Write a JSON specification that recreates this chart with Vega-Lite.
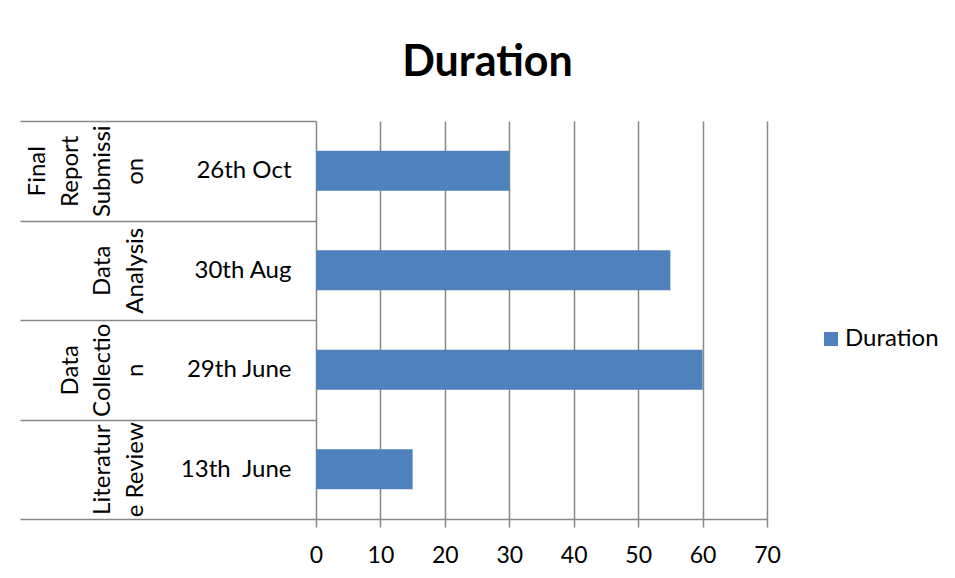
{
  "$schema": "https://vega.github.io/schema/vega-lite/v6.json",
  "width": 451,
  "height": 398,
  "autosize": {"type": "none"},
  "padding": {"left": 316, "top": 121, "right": 188, "bottom": 59},
  "background": "white",
  "title": {"text": "Duration", "fontSize": 43, "font": "Lato", "fontWeight": "bold", "color": "black", "anchor": "middle", "frame": "group", "dx": -54, "offset": 24},
  "config": {"view": {"stroke": null}, "font": "Lato"},
  "data": {"values": [
    {"task": "Final Report Submission", "date": "26th Oct", "duration": 30},
    {"task": "Data Analysis", "date": "30th Aug", "duration": 55},
    {"task": "Data Collection", "date": "29th June", "duration": 60},
    {"task": "Literature Review", "date": "13th \u00a0June", "duration": 15}
  ]},
  "layer": [
    {
      "mark": {"type": "bar", "color": "#4F81BD"},
      "encoding": {
        "y": {"field": "date", "type": "nominal", "sort": null, "scale": {"paddingInner": 0.6, "paddingOuter": 0.3}, "axis": null},
        "x": {"field": "duration", "type": "quantitative", "scale": {"domain": [0, 70], "nice": false},
          "axis": {"title": null, "values": [0, 10, 20, 30, 40, 50, 60, 70], "grid": true, "gridColor": "#878787", "gridWidth": 1.5, "gridOpacity": 1,
            "domain": true, "domainColor": "#878787", "domainWidth": 1.5, "ticks": true, "tickSize": 8, "tickColor": "#878787", "tickWidth": 1.5,
            "labelFontSize": 23, "labelColor": "black", "labelPadding": 17, "labelFont": "Lato", "labelFlush": false, "labelOverlap": false}},
        "color": {"datum": "Duration", "type": "nominal", "scale": {"range": ["#4F81BD"]},
          "legend": {"title": null, "orient": "none", "legendX": 503, "legendY": 206, "symbolType": "square", "symbolSize": 196, "symbolStrokeWidth": 0, "labelFontSize": 24, "labelOffset": 2, "labelColor": "black", "labelFont": "Lato", "padding": 0}}
      }
    },
    {
      "mark": {"type": "point", "opacity": 0},
      "encoding": {
        "y": {"field": "date", "type": "nominal", "sort": null, "scale": {"paddingInner": 0, "paddingOuter": 0},
          "axis": {"title": null, "orient": "left", "domain": false, "grid": false, "ticks": true, "tickBand": "extent", "tickSize": 296, "tickColor": "#878787", "tickWidth": 1.5,
            "labelPadding": -271, "labelFontSize": 24, "labelColor": "black", "labelFont": "Lato", "labelAlign": "right", "labelBaseline": "middle"}},
        "x": {"field": "duration", "type": "quantitative"}
      }
    },
    {
      "mark": {"type": "point", "opacity": 0},
      "encoding": {
        "y": {"field": "task", "type": "nominal", "sort": null, "scale": {"paddingInner": 0, "paddingOuter": 0},
          "axis": {"title": null, "orient": "left", "domain": false, "grid": false, "ticks": false,
            "labelExpr": "{'Final Report Submission': ['on', 'Submissi', 'Report', 'Final'], 'Data Analysis': ['Analysis', 'Data'], 'Data Collection': ['n', 'Collectio', 'Data'], 'Literature Review': ['e Review', 'Literatur']}[datum.value]",
            "labelAngle": 270, "labelAlign": "center", "labelBaseline": "bottom", "labelPadding": 169, "labelLineHeight": -32.5,
            "labelFontSize": 24, "labelColor": "black", "labelFont": "Lato", "labelLimit": 0}},
        "x": {"field": "duration", "type": "quantitative"}
      }
    }
  ],
  "resolve": {"scale": {"y": "independent"}}
}
